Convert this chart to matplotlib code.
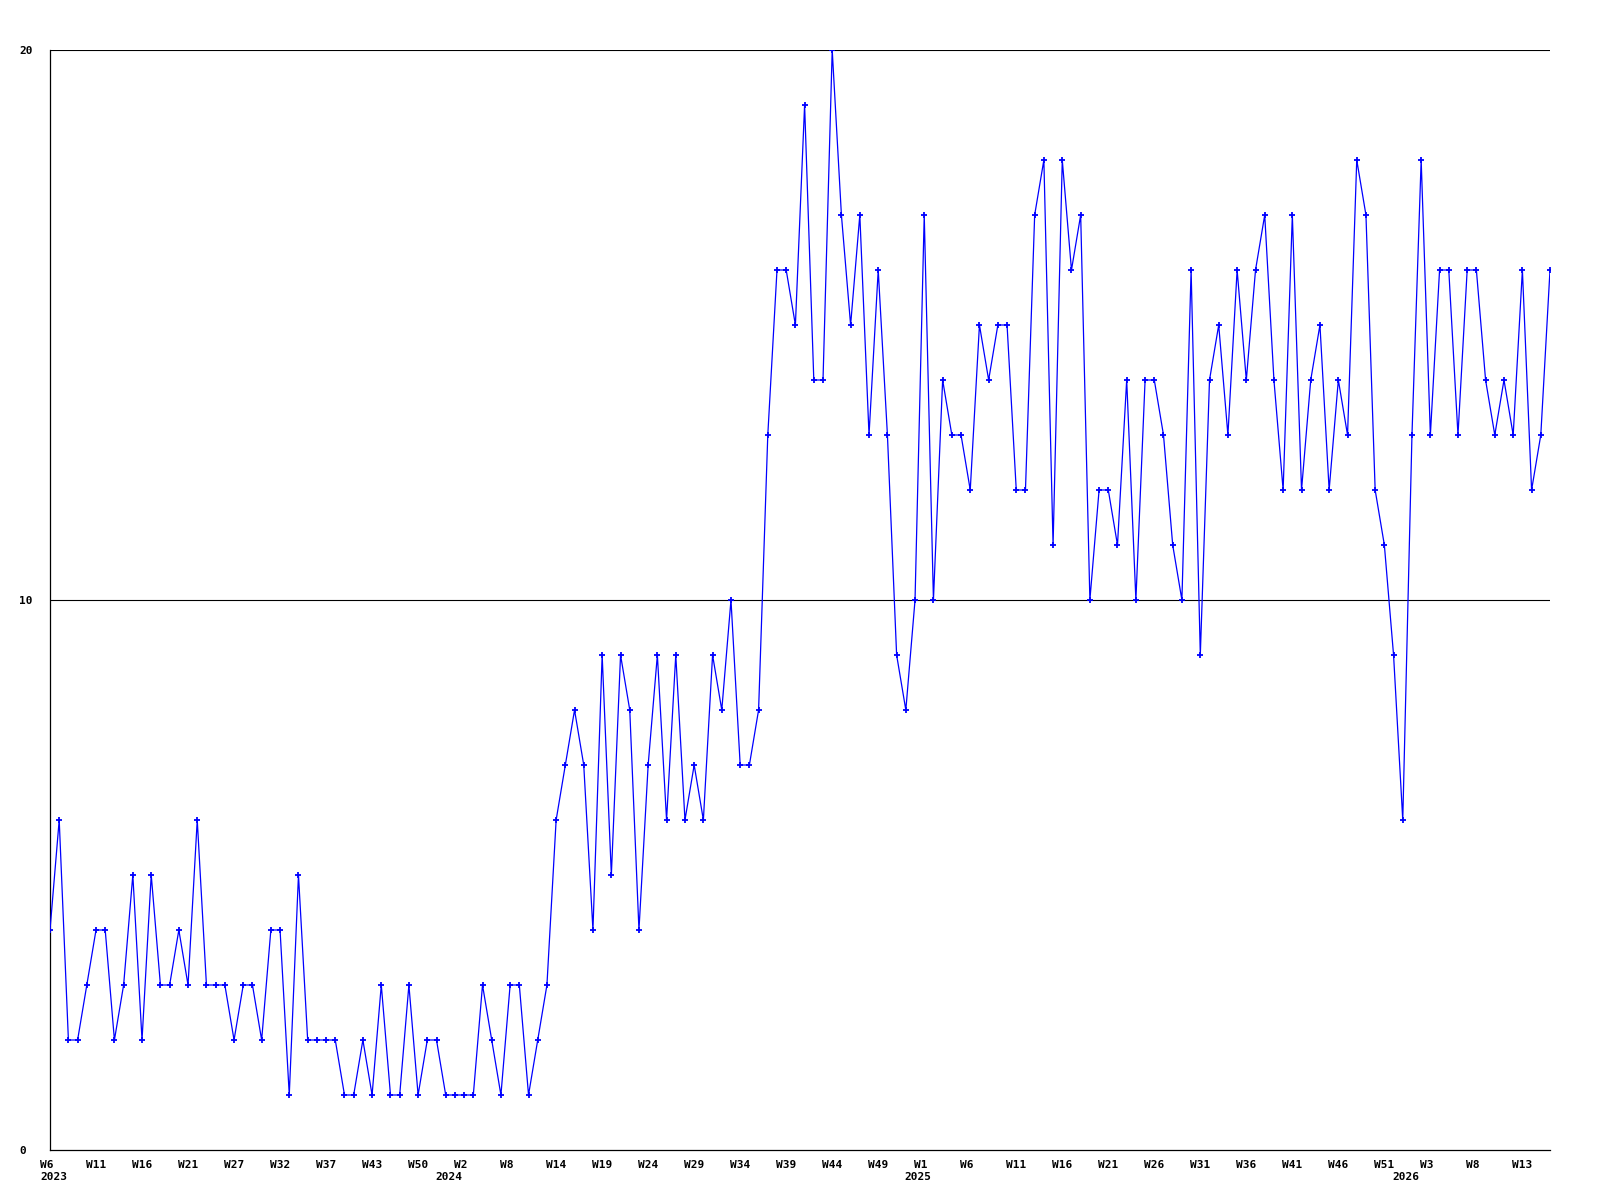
import numpy as np
import matplotlib
matplotlib.use("Agg")
import matplotlib.pyplot as plt
from matplotlib.transforms import blended_transform_factory, ScaledTranslation

# weekly values, one per record
values = [
    4, 6, 2, 2, 3, 4, 4, 2, 3, 5, 2, 5, 3, 3, 4, 3, 6, 3, 3, 3, 2, 3,
    3, 2, 4, 4, 1, 5, 2, 2, 2, 2, 1, 1, 2, 1, 3, 1, 1, 3, 1, 2, 2,
    1, 1, 1, 1, 3, 2, 1, 3, 3, 1, 2, 3, 6, 7, 8, 7, 4, 9, 5, 9, 8,
    4, 7, 9, 6, 9, 6, 7, 6, 9, 8, 10, 7, 7, 8, 13, 16, 16, 15, 19, 14, 14,
    20, 17, 15, 17, 13, 16, 13, 9, 8, 10, 17, 10, 14, 13, 13, 12, 15, 14, 15, 15, 12, 12,
    17, 18, 11, 18, 16, 17, 10, 12, 12, 11, 14, 10, 14, 14, 13, 11, 10, 16, 9, 14, 15, 13,
    16, 14, 16, 17, 14, 12, 17, 12, 14, 15, 12, 14, 13, 18, 17, 12, 11, 9, 6, 13, 18, 13,
    16, 16, 13, 16, 16, 14, 13, 14, 13, 16, 12, 13, 16,
]

# one label every 5 records
week_labels = ["W6", "W11", "W16", "W21", "W27", "W32", "W37", "W43", "W50",
               "W2", "W8", "W14", "W19", "W24", "W29", "W34", "W39", "W44", "W49",
               "W1", "W6", "W11", "W16", "W21", "W26", "W31", "W36", "W41", "W46", "W51",
               "W3", "W8", "W13"]
# year label -> record index where that year's week 1 falls
years = ["2023", "2024", "2025", "2026"]
year_index = [0, 44, 95, 148]

x = np.arange(len(values))
tick_pos = np.arange(0, len(values), 5)[:len(week_labels)]

fig = plt.figure(figsize=(16, 12), dpi=100)
ax = fig.add_axes([50 / 1600, 50 / 1200, 1500 / 1600, 1100 / 1200])

for gy in (10, 20):
    ax.axhline(gy, color="black", lw=0.8, zorder=1)

ax.plot(x, values, color="#0000ff", lw=0.9, marker="+", markersize=4.5,
        markeredgewidth=1.3, zorder=3)

for s in ("top", "right"):
    ax.spines[s].set_visible(False)
for s in ("left", "bottom"):
    ax.spines[s].set_color("black")
    ax.spines[s].set_linewidth(0.9)

mono = dict(family="DejaVu Sans Mono", weight="bold", size=8)
ax.set_xticks(tick_pos)
ax.set_xticklabels(week_labels, fontdict=mono, va="top", ha="left")
ax.set_yticks([0, 10, 20])
ax.set_yticklabels(["0", "10", "20"], fontdict=mono)
for lab in ax.get_yticklabels():
    lab.set_ha("left")
ax.tick_params(axis="x", length=0, pad=7)
ax.tick_params(axis="y", length=0, pad=22)

ax.set_xlim(0, len(values) - 1)
ax.set_ylim(0, 20)

# week labels start ~10 px left of their point
week_nudge = ScaledTranslation(-10 / 100, 0, fig.dpi_scale_trans)
for lab in ax.get_xticklabels():
    lab.set_transform(lab.get_transform() + week_nudge)

# year row under the week labels
year_nudge = ScaledTranslation(-6 / 100, 0, fig.dpi_scale_trans)
trans = blended_transform_factory(ax.transData, fig.transFigure)
for yr, idx in zip(years, year_index):
    if idx == 0:
        ax.text(idx, 1 - 1177 / 1200, yr, transform=trans + week_nudge, ha="left",
                va="center", clip_on=False, **mono)
    else:
        ax.text(idx, 1 - 1177 / 1200, yr, transform=trans + year_nudge, ha="center",
                va="center", clip_on=False, **mono)

fig.savefig("out.png", dpi=100, facecolor="white")
